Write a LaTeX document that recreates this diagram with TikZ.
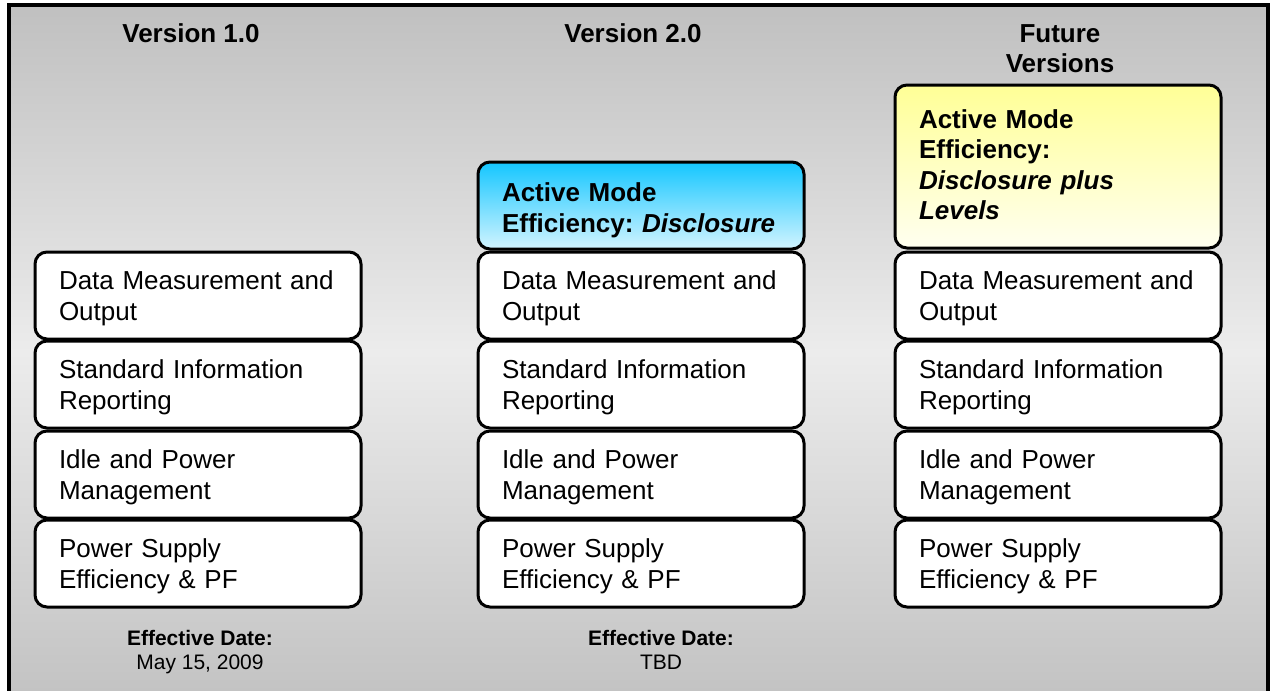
\documentclass[tikz,border=0pt]{standalone}
\usepackage{fontspec}
\setmainfont{Liberation Sans}
\frenchspacing
\newcommand\lineup[1]{\rule{0pt}{#1}}
\begin{document}
\begin{tikzpicture}[x=1pt,y=-1pt,
  item/.style={draw=black, line width=3pt, rounded corners=12pt, fill=white,
    minimum width=326pt, minimum height=87pt, inner xsep=24pt, inner ysep=0pt,
    text width=278pt, align=left, font=\fontsize{26}{30.8}\selectfont\frenchspacing},
  bluebox/.style={item, top color={rgb,255:red,20;green,198;blue,255}, bottom color={rgb,255:red,210;green,244;blue,255}, font=\fontsize{26}{31}\selectfont\bfseries\frenchspacing},
  yellowbox/.style={item, top color={rgb,255:red,255;green,255;blue,150}, bottom color={rgb,255:red,255;green,255;blue,240}, font=\fontsize{26}{30.5}\selectfont\bfseries\frenchspacing},
  header/.style={font=\fontsize{26}{30}\selectfont\bfseries, align=center, inner sep=0pt, anchor=base},
  datelbl/.style={font=\fontsize{21}{24}\selectfont\frenchspacing, align=center, inner sep=0pt, anchor=base}]
\useasboundingbox (0,0) rectangle (1270,691);
\begin{scope}
\clip (0,0) rectangle (1270,691);
\shade[top color={rgb,255:red,192;green,192;blue,192}, bottom color={rgb,255:red,194;green,194;blue,194}, middle color={rgb,255:red,236;green,236;blue,236}] (9,5) rectangle (1268,700);
\draw[line width=4pt] (9,700) -- (9,5) -- (1268,5) -- (1268,700);
\end{scope}

% headers
\node[header] (h1) at (191,42) {Version 1.0};
\node[header] (h2) at (633,42) {Version 2.0};
\node[header] (h3a) at (1060,42) {Future};
\node[header] (h3b) at (1060,72) {Versions};

% column 1
\node[item] (a1) at (198,295.5) {\lineup{25pt}Data Measurement and\\Output};
\node[item] (a2) at (198,384.5) {\lineup{25pt}Standard Information\\Reporting};
\node[item] (a3) at (198,474.5) {\lineup{25pt}Idle and Power\\Management};
\node[item] (a4) at (198,563.5) {\lineup{25pt}Power Supply\\Efficiency \& PF};

% column 2
\node[bluebox, minimum height=87pt] (b0) at (641,205.5) {\lineup{29pt}Active Mode\\Efficiency: \textit{Disclosure}};
\node[item] (b1) at (641,295.5) {\lineup{25pt}Data Measurement and\\Output};
\node[item] (b2) at (641,384.5) {\lineup{25pt}Standard Information\\Reporting};
\node[item] (b3) at (641,474.5) {\lineup{25pt}Idle and Power\\Management};
\node[item] (b4) at (641,563.5) {\lineup{25pt}Power Supply\\Efficiency \& PF};

% column 3
\node[yellowbox, minimum height=163pt] (c0) at (1058,166.5) {Active Mode\\Efficiency:\\\textit{Disclosure plus}\\\textit{Levels}\rule[-4pt]{0pt}{4pt}};
\node[item] (c1) at (1058,295.5) {\lineup{25pt}Data Measurement and\\Output};
\node[item] (c2) at (1058,384.5) {\lineup{25pt}Standard Information\\Reporting};
\node[item] (c3) at (1058,474.5) {\lineup{25pt}Idle and Power\\Management};
\node[item] (c4) at (1058,563.5) {\lineup{25pt}Power Supply\\Efficiency \& PF};

% dates
\node[datelbl, font=\fontsize{21}{24}\selectfont\bfseries] (d1a) at (200,645) {Effective Date:};
\node[datelbl] (d1b) at (200,669) {May 15, 2009};
\node[datelbl, font=\fontsize{21}{24}\selectfont\bfseries] (d2a) at (661,645) {Effective Date:};
\node[datelbl] (d2b) at (661,669) {TBD};
\end{tikzpicture}
\end{document}
